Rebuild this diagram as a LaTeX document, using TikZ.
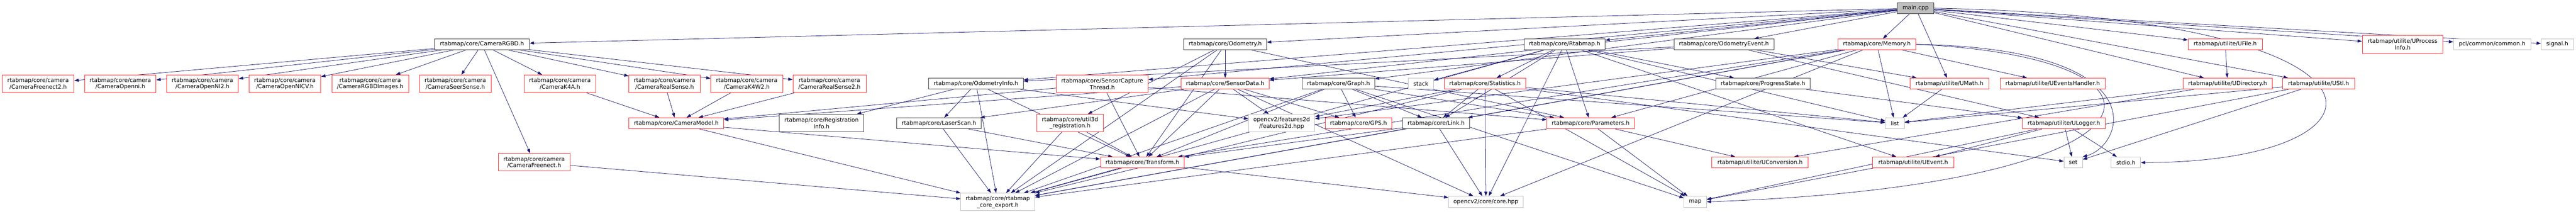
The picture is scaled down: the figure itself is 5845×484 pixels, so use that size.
\documentclass[tikz,border=0pt]{standalone}
\usepackage{fontspec}
\setmainfont{DejaVu Sans}
\usetikzlibrary{arrows.meta}
\definecolor{edgeblue}{HTML}{191970}
\definecolor{truncred}{HTML}{FF3030}
\definecolor{hdrgray}{HTML}{404040}
\definecolor{extgray}{HTML}{BFBFBF}
\pgfdeclarelayer{background}
\pgfsetlayers{background,main}
\tikzset{
  file/.style={draw, fill=white, line width=1pt, inner sep=0pt, minimum height=25pt,
    align=center, font=\fontsize{12.8}{15}\selectfont},
  hdr/.style={file, draw=hdrgray},
  trunc/.style={file, draw=truncred},
  ext/.style={file, draw=extgray},
  root/.style={file, draw=hdrgray, fill=extgray},
  two/.style={minimum height=40pt},
  dep/.style={draw=edgeblue, line width=0.9pt, -{Triangle[length=10pt,width=7pt]}},
}

\begin{document}
\begin{tikzpicture}[x=1pt, y=-1pt]
\useasboundingbox (0,0) rectangle (5845,484);

% top
\node[root, minimum width=83pt] (main) at (4346.5,18.5) {main.cpp};

% first level
\node[hdr, minimum width=215pt] (camrgbd) at (1093.5,100.5) {rtabmap/core/CameraRGBD.h};
\node[hdr, minimum width=188pt] (odom) at (2780,100.5) {rtabmap/core/Odometry.h};
\node[hdr, minimum width=184pt] (rtabmap) at (3550,100.5) {rtabmap/core/Rtabmap.h};
\node[hdr, minimum width=227pt] (odomevent) at (3911.5,100.5) {rtabmap/core/OdometryEvent.h};
\node[trunc, minimum width=177pt] (memory) at (4258.5,100.5) {rtabmap/core/Memory.h};
\node[trunc, minimum width=168pt] (ufile) at (5049,100.5) {rtabmap/utilite/UFile.h};
\node[trunc, two, minimum width=183pt] (uprocess) at (5451.5,100.5) {rtabmap/utilite/UProcess\\Info.h};
\node[ext, minimum width=175pt] (pclcommon) at (5654.5,100.5) {pcl/common/common.h};
\node[ext, minimum width=73pt] (signal) at (5802.5,100.5) {signal.h};

% cameras
\foreach \n/\x/\w/\t in {freenect2/86.5/163/Freenect2, openni/273/162/Openni,
    openni2/459.5/163/OpenNI2, opennicv/646.5/163/OpenNICV, rgbdimages/840/174/RGBDImages,
    seersense/1033/162/SeerSense, k4a/1270.5/163/K4A, realsense/1508/162/RealSense,
    k4w2/1694.5/163/K4W2, realsense2/1882/166/RealSense2}
  \node[trunc, two, minimum width=\w pt] (\n) at (\x,190) {rtabmap/core/camera\\/Camera\t.h};
\node[trunc, two, minimum width=162pt] (freenect) at (1212,368) {rtabmap/core/camera\\/CameraFreenect.h};

% second level
\node[hdr, minimum width=215pt] (odominfo) at (2214.5,189.5) {rtabmap/core/OdometryInfo.h};
\node[trunc, two, minimum width=208pt] (capture) at (2501,190) {rtabmap/core/SensorCapture\\Thread.h};
\node[trunc, minimum width=200pt] (sensordata) at (2780,189.5) {rtabmap/core/SensorData.h};
\node[hdr, minimum width=164pt] (graph) at (3037,189.5) {rtabmap/core/Graph.h};
\node[ext, minimum width=58pt] (stack) at (3224,189.5) {stack};
\node[trunc, minimum width=185pt] (statistics) at (3369.5,189.5) {rtabmap/core/Statistics.h};
\node[hdr, minimum width=214pt] (progress) at (4000,189.5) {rtabmap/core/ProgressState.h};
\node[trunc, minimum width=179pt] (umath) at (4423.5,189.5) {rtabmap/utilite/UMath.h};
\node[trunc, minimum width=239pt] (uevents) at (4657.5,189.5) {rtabmap/utilite/UEventsHandler.h};
\node[trunc, minimum width=203pt] (udirectory) at (5054.5,189.5) {rtabmap/utilite/UDirectory.h};
\node[trunc, minimum width=164pt] (ustl) at (5261,189.5) {rtabmap/utilite/UStl.h};

% third level
\node[trunc, minimum width=215pt] (cammodel) at (1534.5,279.5) {rtabmap/core/CameraModel.h};
\node[hdr, two, minimum width=192pt] (reginfo) at (1864,279) {rtabmap/core/Registration\\Info.h};
\node[hdr, minimum width=191pt] (laserscan) at (2130.5,279.5) {rtabmap/core/LaserScan.h};
\node[trunc, two, minimum width=150pt] (util3dreg) at (2428,279) {rtabmap/core/util3d\\\_registration.h};
\node[ext, two, minimum width=150pt] (features) at (2908,279) {opencv2/features2d\\/features2d.hpp};
\node[trunc, minimum width=151pt] (gps) at (3082.5,279.5) {rtabmap/core/GPS.h};
\node[hdr, minimum width=151pt] (link) at (3258.5,279.5) {rtabmap/core/Link.h};
\node[trunc, minimum width=198pt] (parameters) at (3609,279.5) {rtabmap/core/Parameters.h};
\node[ext, minimum width=43pt] (list) at (4299.5,279.5) {list};
\node[trunc, minimum width=188pt] (ulogger) at (4683,279.5) {rtabmap/utilite/ULogger.h};

% fourth level
\node[trunc, minimum width=190pt] (transform) at (2592,368.5) {rtabmap/core/Transform.h};
\node[trunc, minimum width=219pt] (uconversion) at (3993.5,368.5) {rtabmap/utilite/UConversion.h};
\node[trunc, minimum width=184pt] (uevent) at (4341,368.5) {rtabmap/utilite/UEvent.h};
\node[ext, minimum width=42pt] (set) at (4704,368.5) {set};
\node[ext, minimum width=67pt] (stdio) at (4823.5,368.5) {stdio.h};

% bottom
\node[ext, two, minimum width=168pt] (export) at (2264,458) {rtabmap/core/rtabmap\\\_core\_export.h};
\node[ext, minimum width=169pt] (corehpp) at (3371.5,457.5) {opencv2/core/core.hpp};
\node[ext, minimum width=51pt] (map) at (3846.5,457.5) {map};

\begin{pgfonlayer}{background}
\foreach \s/\t in {main/camrgbd, main/odom, main/rtabmap, main/odomevent, main/memory,
    main/umath, main/ufile, main/udirectory, main/ustl, main/uprocess, main/pclcommon,
    main/signal, main/odominfo, main/capture, main/graph, main/sensordata,
    camrgbd/freenect2, camrgbd/openni, camrgbd/openni2, camrgbd/opennicv, camrgbd/rgbdimages,
    camrgbd/seersense, camrgbd/k4a, camrgbd/freenect, camrgbd/realsense, camrgbd/k4w2,
    camrgbd/realsense2,
    k4a/cammodel, realsense/cammodel, k4w2/cammodel, realsense2/cammodel, freenect/export,
    cammodel/transform, cammodel/export,
    odom/sensordata, odom/transform, odom/util3dreg, odom/parameters, odom/export,
    rtabmap/parameters, rtabmap/statistics, rtabmap/progress, rtabmap/stack, rtabmap/link,
    rtabmap/list, rtabmap/uevent, rtabmap/corehpp, rtabmap/export,
    odomevent/sensordata, odomevent/odominfo, odomevent/umath, odomevent/ulogger,
    memory/list, memory/uevents, memory/parameters, memory/link, memory/transform,
    memory/corehpp, memory/features, memory/export,
    odominfo/reginfo, odominfo/laserscan, odominfo/transform, odominfo/export, odominfo/features,
    capture/transform, capture/cammodel, capture/parameters,
    sensordata/cammodel, sensordata/laserscan, sensordata/transform, sensordata/features,
    sensordata/gps, sensordata/corehpp, sensordata/export,
    laserscan/transform, laserscan/export, util3dreg/transform, util3dreg/export,
    transform/export, transform/corehpp,
    graph/gps, graph/link, graph/parameters, graph/list, graph/map, graph/transform, graph/export,
    statistics/link, statistics/features, statistics/corehpp, statistics/list, statistics/set,
    statistics/map, statistics/export,
    link/transform, link/corehpp, link/export,
    parameters/uconversion, parameters/map, parameters/export,
    progress/ulogger, umath/list, ufile/udirectory, udirectory/list, udirectory/uconversion,
    ustl/list, ustl/set, ustl/map,
    ulogger/set, ulogger/stdio, ulogger/uevent, ulogger/map}
  \draw[dep] (\s) -- (\t);
% the long ones round the right side
\draw[dep] (main.east) .. controls (5500,40) and (5460,368) .. (stdio.east);
\draw[dep] (memory.east) .. controls (4900,110) and (4820,330) .. (set.north east);
\draw[dep] (memory.east) .. controls (5000,130) and (4950,420) .. (map.east);
\end{pgfonlayer}
\end{tikzpicture}
\end{document}
